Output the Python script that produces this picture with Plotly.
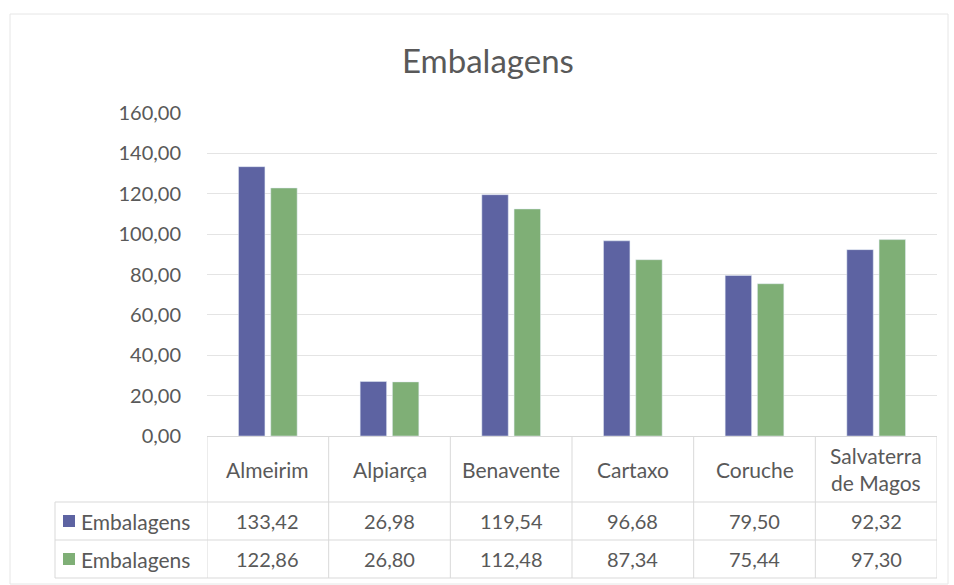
import plotly.graph_objects as go

categories = ["Almeirim", "Alpiarça", "Benavente", "Cartaxo", "Coruche", "Salvaterra<br>de Magos"]
series_names = ["Embalagens", "Embalagens"]
values_1 = [133.42, 26.98, 119.54, 96.68, 79.50, 92.32]
values_2 = [122.86, 26.80, 112.48, 87.34, 75.44, 97.30]
colors = ["#5D63A2", "#7FAF76"]
y_ticks = [0, 20, 40, 60, 80, 100, 120, 140, 160]

W, H = 954, 585
L, R, T, B = 207, 17, 113, 149
PW, PH = W - L - R, H - T - B
FONT = "Lato, Calibri, sans-serif"
TXT = "#595959"
LINE = "#D9D9D9"

def px(x):
    return (x - L) / PW

def py(y):
    return (H - B - y) / PH

xs = list(range(len(categories)))
fig = go.Figure()
fig.add_trace(go.Bar(x=xs, y=values_1, name=series_names[0], marker_color=colors[0]))
fig.add_trace(go.Bar(x=xs, y=values_2, name=series_names[1], marker_color=colors[1]))

shapes = []
annotations = []
for i in range(len(categories) + 1):
    shapes.append(dict(type="line", xref="x", yref="paper", x0=i - 0.5, x1=i - 0.5,
                       y0=0, y1=py(578), line=dict(color=LINE, width=1)))
shapes.append(dict(type="line", xref="paper", yref="paper", x0=px(55), x1=px(55),
                   y0=py(502), y1=py(578), line=dict(color=LINE, width=1)))
for yy in [502, 540, 578]:
    shapes.append(dict(type="line", xref="paper", yref="paper", x0=px(55), x1=1,
                       y0=py(yy), y1=py(yy), line=dict(color=LINE, width=1)))
shapes.append(dict(type="rect", xref="paper", yref="paper", x0=px(10), x1=px(948),
                   y0=py(584), y1=py(14), line=dict(color="#E6E6E6", width=1)))

for i, c in enumerate(categories):
    annotations.append(dict(xref="x", yref="paper", x=i, y=py(469), text=c, showarrow=False,
                            xanchor="center", yanchor="middle",
                            font=dict(family=FONT, size=21, color=TXT), align="center"))
for row, (vals, yy) in enumerate([(values_1, 521), (values_2, 559)]):
    for i, v in enumerate(vals):
        annotations.append(dict(xref="x", yref="paper", x=i, y=py(yy),
                                text=f"{v:.2f}".replace(".", ","), showarrow=False,
                                xanchor="center", yanchor="middle",
                                font=dict(family=FONT, size=20, color=TXT)))
    shapes.append(dict(type="rect", xref="paper", yref="paper", x0=px(63), x1=px(75),
                       y0=py(yy + 6), y1=py(yy - 6), fillcolor=colors[row], line=dict(width=0)))
    annotations.append(dict(xref="paper", yref="paper", x=px(79), y=py(yy), xanchor="left",
                            yanchor="middle", text=series_names[row], showarrow=False,
                            font=dict(family=FONT, size=21, color=TXT)))

annotations.append(dict(xref="paper", yref="paper", x=px(488), y=py(60), text="Embalagens",
                        xanchor="center", yanchor="middle",
                        showarrow=False, font=dict(family=FONT, size=33, color=TXT)))

fig.update_layout(
    width=W, height=H,
    margin=dict(l=L, r=R, t=T, b=B),
    paper_bgcolor="white", plot_bgcolor="white",
    separators=",.",
    barmode="group", bargap=0.47, bargroupgap=0.18,
    showlegend=False,
    shapes=shapes, annotations=annotations,
    xaxis=dict(range=[-0.5, len(categories) - 0.5], showticklabels=False, showgrid=False,
               zeroline=False, showline=True, linecolor=LINE, fixedrange=True),
    yaxis=dict(range=[0, 160], tickvals=y_ticks, tickformat=".2f", showgrid=True,
               gridcolor="#E4E4E4", zeroline=False, ticks="", ticklabelstandoff=25,
               tickfont=dict(family=FONT, size=20, color=TXT)),
)

fig.write_html("out.html", config={"displayModeBar": False},
               post_script="document.body.style.margin='0';document.body.style.overflow='hidden';")
